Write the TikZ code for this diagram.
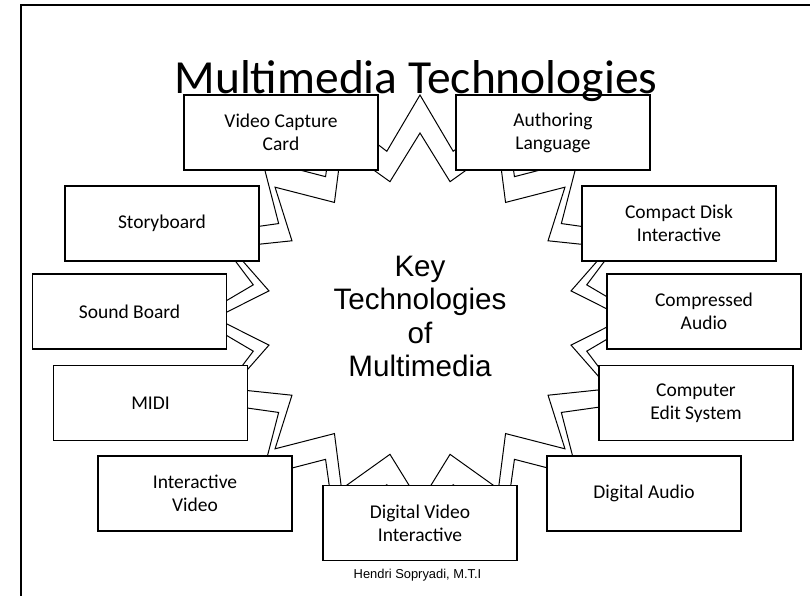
\documentclass[tikz,border=0pt]{standalone}
\usepackage{fontspec}
\newfontfamily\calibri{Carlito}
\newfontfamily\arialf{Liberation Sans}
\begin{document}
\begin{tikzpicture}[x=1pt,y=-1pt,
  starline/.style={draw=black,line width=1pt,fill=white,line join=miter},
  techbox/.style={draw=black,line width=1.2pt,fill=white,minimum width=194pt,minimum height=75pt,inner sep=0pt,align=center,font=\calibri\fontsize{19.5}{23}\selectfont},
  frameline/.style={draw=black,line width=1.7pt}]
\useasboundingbox (0,0) rectangle (810,596);
% slide frame
\draw[frameline] (21,610) -- (21,5) -- (820,5);
% outer star
\path[starline] (420,{318-223})
  \foreach \k in {0,...,15}{
    -- ({420+170*cos(101.25+22.5*\k)},{318-170*sin(101.25+22.5*\k)})
    -- ({420+223*cos(112.5+22.5*\k)},{318-223*sin(112.5+22.5*\k)})
  } -- cycle;
% inner star
\path[starline] (420,{318-185})
  \foreach \k in {0,...,15}{
    -- ({420+154*cos(101.25+22.5*\k)},{318-139*sin(101.25+22.5*\k)})
    -- ({420+205*cos(112.5+22.5*\k)},{318-185*sin(112.5+22.5*\k)})
  } -- cycle;
% centre text
\node[font=\arialf\fontsize{29.6}{33.5}\selectfont,align=center,inner sep=0pt] (key) at (420,316.5) {Key\\Technologies\\of\\Multimedia};
% boxes
\node[techbox] (vcc) at (281,132.5) {Video Capture\\Card};
\node[techbox] (al)  at (553,132.5) {Authoring\\Language};
\node[techbox] (sb)  at (162,223.5) {Storyboard};
\node[techbox] (cdi) at (679,223.5) {Compact Disk\\Interactive};
\node[techbox] (snd) at (129.5,311.5) {Sound Board};
\node[techbox] (ca)  at (704,311.5) {Compressed\\Audio};
\node[techbox] (midi) at (150.5,403) {MIDI};
\node[techbox] (ces) at (696,403) {Computer\\Edit System};
\node[techbox] (iv)  at (195,493.5) {Interactive\\Video};
\node[techbox] (da)  at (644,493.5) {Digital Audio};
\node[techbox] (dvi) at (420,523) {Digital Video\\Interactive};
% title and footer
\node[font=\calibri\fontsize{47.5}{50}\selectfont,anchor=base,inner sep=0pt] (title) at (416,94) {Multimedia Technologies};
\node[font=\arialf\fontsize{12.9}{15}\selectfont,anchor=base,inner sep=0pt] (foot) at (417.5,578) {Hendri Sopryadi, M.T.I};
\end{tikzpicture}
\end{document}
